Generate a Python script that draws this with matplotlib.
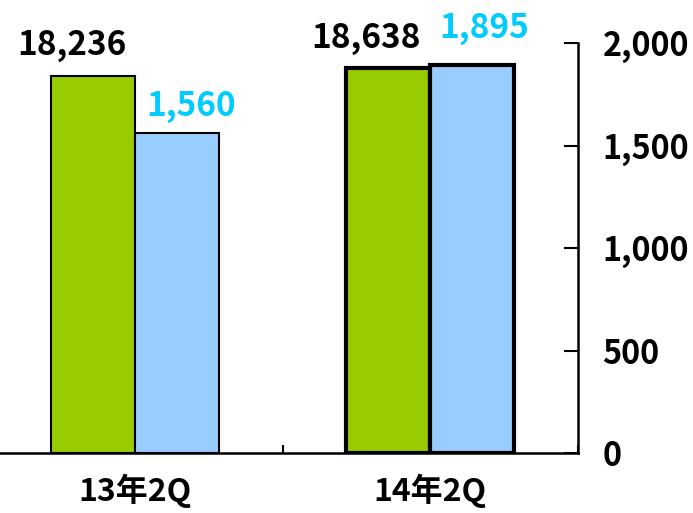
import matplotlib
matplotlib.use("Agg")
import matplotlib.pyplot as plt

plt.rcParams['font.family'] = ['Noto Sans CJK JP', 'DejaVu Sans']

# --- data ---------------------------------------------------------------------
categories = ["13年2Q", "14年2Q"]
green_vals = [18236, 18638]      # left (hidden) axis
blue_vals = [1560, 1895]         # right axis
right_ticks = [0, 500, 1000, 1500, 2000]

GREEN, BLUE, CYAN = "#99CC00", "#99CCFF", "#00CCFF"
EDGE_W = [1.5, 3.0]              # second group highlighted with heavy borders
BW = 0.285
# label offsets (points): green labels sit left, blue labels sit right
g_off = [(-15, 22), (-16, 21)]
b_off = [(10, 19.5), (9, 26)]

fig = plt.figure(figsize=(6.93, 5.13), dpi=100)
ax = fig.add_axes([-12.5 / 693, 60 / 513, 590 / 693, 410 / 513])
ax2 = ax.twinx()

xs = [i + 0.5 for i in range(len(categories))]
for i, x in enumerate(xs):
    ax.bar(x - BW / 2, green_vals[i], BW, color=GREEN, edgecolor="black",
           linewidth=EDGE_W[i], zorder=2)
    ax2.bar(x + BW / 2, blue_vals[i], BW, color=BLUE, edgecolor="black",
            linewidth=EDGE_W[i], zorder=2)
    ax.annotate(f"{green_vals[i]:,}", (x - BW / 2, green_vals[i]),
                xytext=g_off[i], textcoords="offset points", ha="center",
                va="center", fontsize=24, fontweight="bold", color="black")
    ax2.annotate(f"{blue_vals[i]:,}", (x + BW / 2, blue_vals[i]),
                 xytext=b_off[i], textcoords="offset points", ha="center",
                 va="center", fontsize=24, fontweight="bold", color=CYAN,
                 annotation_clip=False)

ax.set_xlim(0, 2)
ax.set_ylim(0, 19840)
ax2.set_ylim(0, 2000)

# x axis: category labels centred, small ticks at the group boundaries
ax.set_xticks([0, 1, 2])
ax.set_xticklabels([])
ax.set_xticks(xs, minor=True)
ax.set_xticklabels(categories, minor=True, fontsize=23, fontweight="bold")
ax.tick_params(axis="x", which="major", direction="in", length=6, width=1.5)
ax.tick_params(axis="x", which="minor", length=0, pad=15)
ax.set_yticks([])

ax2.set_yticks(right_ticks)
ax2.set_yticklabels([f"{t:,}" for t in right_ticks], fontsize=23.3,
                    fontweight="bold")
ax2.tick_params(axis="y", direction="in", length=10, width=1.5, pad=18)

for a in (ax, ax2):
    for s in ("top", "left"):
        a.spines[s].set_visible(False)
ax.spines["right"].set_visible(False)
ax2.spines["bottom"].set_visible(False)
ax.spines["bottom"].set_linewidth(1.8)
ax2.spines["right"].set_linewidth(1.8)

fig.savefig("out.png", dpi=100)
